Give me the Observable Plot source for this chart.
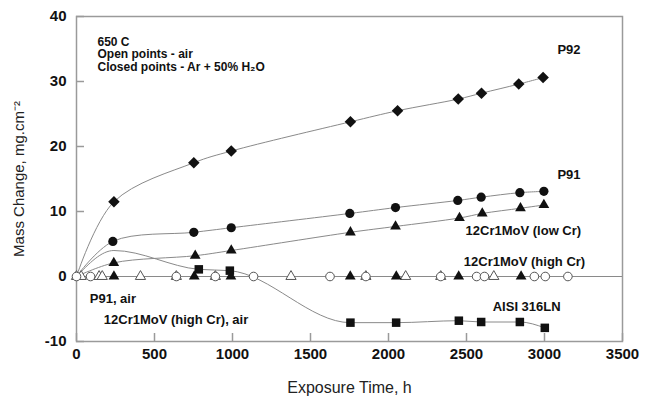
<!DOCTYPE html>
<html><head><meta charset="utf-8">
<script src="https://cdn.jsdelivr.net/npm/d3@7"></script>
<script src="https://cdn.jsdelivr.net/npm/@observablehq/plot@0.6"></script>
<style>body{margin:0;background:#fff;}</style>
</head><body><div id="chart"></div>
<script>
// ---- data (exposure hours, mass change mg/cm2) ----
const xTicks = [0, 500, 1000, 1500, 2000, 2500, 3000, 3500];
const yTicks = [-10, 0, 10, 20, 30, 40];

// Closed points: Ar + 50% H2O
const p92Hours = [240, 752, 992, 1756, 2058, 2447, 2596, 2835, 2991];
const p92Mass  = [11.5, 17.5, 19.3, 23.8, 25.5, 27.3, 28.2, 29.6, 30.6];

const p91Hours = [233, 752, 992, 1752, 2045, 2444, 2594, 2842, 2996];
const p91Mass  = [5.4, 6.8, 7.5, 9.7, 10.6, 11.7, 12.2, 12.9, 13.1];

const lowCrHours = [239, 761, 992, 1756, 2045, 2455, 2601, 2846, 2996];
const lowCrMass  = [2.1, 3.2, 4.0, 6.8, 7.7, 9.0, 9.7, 10.5, 11.0];

const highCrHours = [240, 755, 990, 1755, 2050, 2450, 2850];
const highCrMass  = [0, 0, 0, 0, 0, 0, 0];

const s316Hours = [784, 983, 1756, 2049, 2451, 2594, 2842, 3002];
const s316Mass  = [1.1, 0.9, -7.1, -7.1, -6.8, -7.0, -7.0, -7.9];
// unmarked points of the fitted curve (start at origin, early peak)
const s316FitHours = [0, 240];
const s316FitMass  = [0, 4.0];

// Open points: air
const p91AirHours = [0, 90, 640, 890, 1135, 1625, 1855, 2335, 2565, 2615, 2935, 3005, 3150];
const p91AirMass  = [0, 0, 0, 0, 0, 0, 0, 0, 0, 0, 0, 0, 0];
const highCrAirHours = [0, 30, 145, 165, 410, 640, 890, 1375, 1855, 2110, 2335, 2675];
const highCrAirMass  = [0, 0, 0, 0, 0, 0, 0, 0, 0, 0, 0, 0];

const seriesLabels = ["P92", "P91", "12Cr1MoV (low Cr)", "12Cr1MoV (high Cr)", "AISI 316LN", "P91, air", "12Cr1MoV (high Cr), air"];
const labelHours = [3083, 3083, 2494, 2483, 2668, 85, 175];
const labelMass  = [34.8, 15.6, 7.1, 2.2, -4.6, -3.4, -6.6];

const noteText = "650 C\nOpen points - air\nClosed points - Ar + 50% H\u2082O";
const xTitle = "Exposure Time, h";
const yTitle = "Mass Change, mg.cm\u207B\u00B2";

// ---- build ----
const rows = (hs, ms) => hs.map((h, i) => ({h, m: ms[i]}));
const origin = [{h: 0, m: 0}];
const p92 = rows(p92Hours, p92Mass);
const p91 = rows(p91Hours, p91Mass);
const lowCr = rows(lowCrHours, lowCrMass);
const highCr = rows(highCrHours, highCrMass);
const s316 = rows(s316Hours, s316Mass);
const s316Line = rows(s316FitHours, s316FitMass).concat(s316);
const p91Air = rows(p91AirHours, p91AirMass);
const highCrAir = rows(highCrAirHours, highCrAirMass);
const labels = seriesLabels.map((t, i) => ({t, h: labelHours[i], m: labelMass[i]}));

const W = 656, H = 402, mT = 16, mB = 61, mL = 76, mR = 34;
const plotW = W - mL - mR, plotH = H - mT - mB;
const lineGrey = "#8a8a8a", frameGrey = "#9a9a9a", ink = "#111";
const lineOpts = {x: "h", y: "m", curve: "catmull-rom", stroke: lineGrey, strokeWidth: 1};

const chart = Plot.plot({
  width: W, height: H,
  marginTop: mT, marginBottom: mB, marginLeft: mL, marginRight: mR,
  style: {fontFamily: "'Liberation Sans', Arial, sans-serif", background: "#fff", color: ink},
  x: {domain: [0, 3500], axis: null, label: null},
  y: {domain: [-10, 40], axis: null, label: null},
  marks: [
    Plot.frame({stroke: frameGrey, strokeWidth: 1.5}),
    Plot.tickX(xTicks, {x: d => d, stroke: frameGrey, strokeWidth: 1.5, insetTop: plotH - 8}),
    Plot.tickY(yTicks, {y: d => d, stroke: frameGrey, strokeWidth: 1.5, insetRight: plotW - 8}),
    Plot.axisX(xTicks, {tickSize: 0, tickPadding: 7, tickFormat: d => String(d), fontSize: 15, fontWeight: "bold", fill: ink, label: null}),
    Plot.axisY(yTicks, {tickSize: 0, tickPadding: 10, tickFormat: d => String(d), fontSize: 15, fontWeight: "bold", fill: ink, label: null}),
    Plot.ruleY([0], {stroke: lineGrey, strokeWidth: 1}),
    Plot.line(origin.concat(p92), lineOpts),
    Plot.line(origin.concat(p91), lineOpts),
    Plot.line(origin.concat(lowCr), lineOpts),
    Plot.line(s316Line, {...lineOpts, curve: "monotone-x"}),
    Plot.dot(highCrAir, {x: "h", y: "m", symbol: "triangle", r: 3.8, fill: "#fff", stroke: "#555", strokeWidth: 1}),
    Plot.dot(p91Air, {x: "h", y: "m", symbol: "circle", r: 4.3, fill: "#fff", stroke: "#555", strokeWidth: 1}),
    Plot.dot(p92, {x: "h", y: "m", symbol: "diamond2", r: 5.2, fill: ink, stroke: "none"}),
    Plot.dot(p91, {x: "h", y: "m", symbol: "circle", r: 4.6, fill: ink, stroke: "none"}),
    Plot.dot(lowCr, {x: "h", y: "m", symbol: "triangle", r: 4, fill: ink, stroke: "none"}),
    Plot.dot(highCr, {x: "h", y: "m", symbol: "triangle", r: 4, fill: ink, stroke: "none"}),
    Plot.dot(s316, {x: "h", y: "m", symbol: "square", r: 4.8, fill: ink, stroke: "none"}),
    Plot.text(labels, {x: "h", y: "m", text: "t", textAnchor: "start", lineAnchor: "middle", fontSize: 13, fontWeight: "bold", fill: ink, ariaLabel: "condensed"}),
    Plot.text([noteText], {frameAnchor: "top-left", dx: 21, dy: 20, textAnchor: "start", lineAnchor: "top", lineHeight: 1.06, fontSize: 12, fontWeight: "bold", fill: ink, ariaLabel: "condensed-note"}),
    Plot.text([xTitle], {frameAnchor: "bottom", dy: 46, textAnchor: "middle", lineAnchor: "middle", fontSize: 16, fill: "#222"}),
    Plot.text([yTitle], {frameAnchor: "left", dx: -57, rotate: -90, textAnchor: "middle", lineAnchor: "middle", fontSize: 15, fill: "#222"})
  ]
});
d3.select(chart).selectAll('g[aria-label="condensed"] text').style("letter-spacing", "-0.5px");
d3.select(chart).selectAll('g[aria-label="condensed-note"] text').style("letter-spacing", "-0.2px");
document.getElementById("chart").append(chart);
</script>
</body></html>
